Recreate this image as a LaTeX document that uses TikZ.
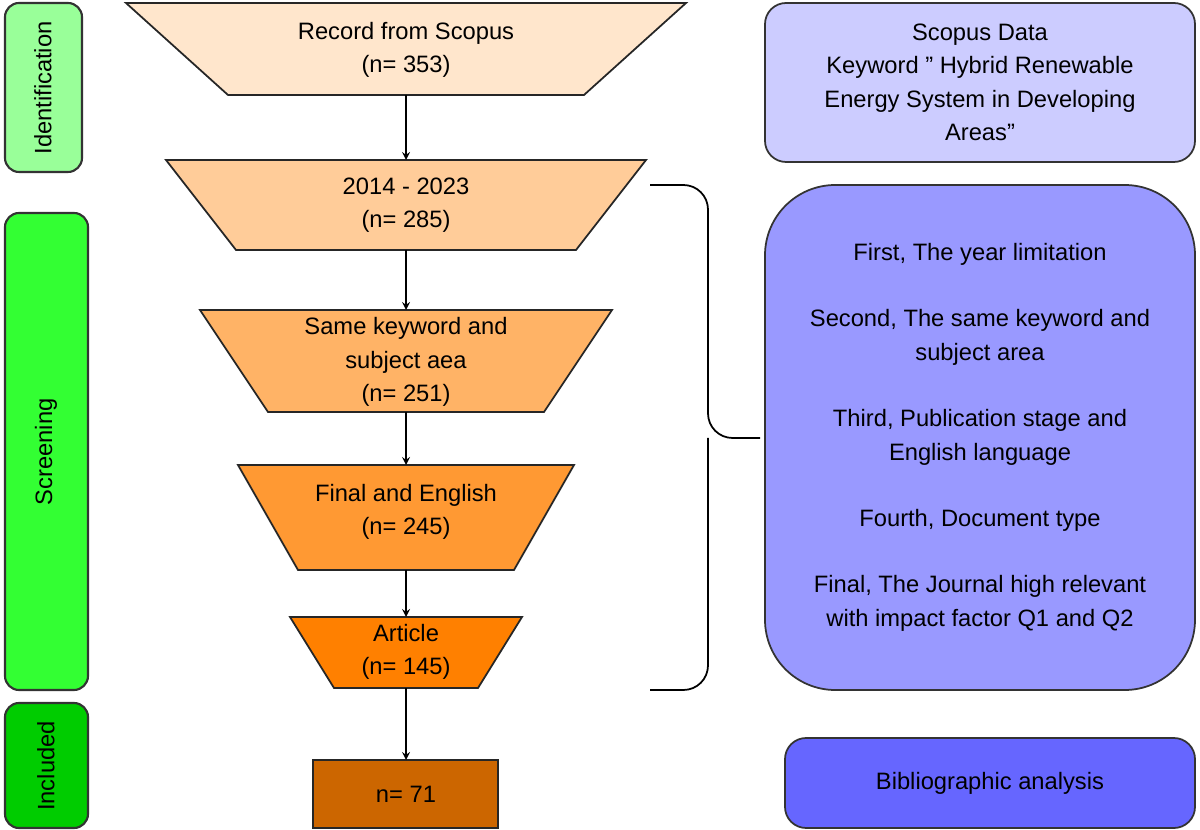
\documentclass[tikz,border=0pt]{standalone}
\usepackage{fontspec}
\setmainfont{Liberation Sans}
\usetikzlibrary{calc, positioning, arrows}
\definecolor{idgreen}{HTML}{99FF99}
\definecolor{scgreen}{HTML}{33FF33}
\definecolor{ingreen}{HTML}{00CC00}
\definecolor{peachA}{HTML}{FFE6CC}
\definecolor{peachB}{HTML}{FFCC99}
\definecolor{peachC}{HTML}{FFB366}
\definecolor{peachD}{HTML}{FF9933}
\definecolor{peachE}{HTML}{FF8000}
\definecolor{brownF}{HTML}{CC6600}
\definecolor{lilacA}{HTML}{CCCCFF}
\definecolor{lilacB}{HTML}{9999FF}
\definecolor{lilacC}{HTML}{6666FF}
\tikzstyle{txt}=[align=center, font=\fontsize{13.5}{19}\selectfont]
\tikzstyle{phase}=[draw=black!80, line width=1.2pt, rounded corners=8pt]
\tikzstyle{funnel}=[draw=black!85, line width=1pt]
\tikzstyle{flow}=[->, >=stealth, line width=1pt]
% funnel stage: #1 name, #2 top y, #3 bottom y, #4 top half width, #5 bottom half width, #6 colour
\newcommand{\stage}[6]{
	\draw[funnel, fill=#6] (406-#4,#2) -- (406+#4,#2) -- (406+#5,#3) -- (406-#5,#3) -- cycle;
	\coordinate (#1-top) at (406,#2);
	\coordinate (#1-bot) at (406,#3);
}
\begin{document}
\begin{tikzpicture}[x=0.02cm, y=-0.02cm]
		\useasboundingbox (0,0) rectangle (1200,830);
		% phases
		\draw[phase, fill=idgreen] (5,3) rectangle (82,172);
		\node[txt, rotate=90] (Id) at (43,88) {Identification};
		\draw[phase, fill=scgreen] (5,213) rectangle (88,690);
		\node[txt, rotate=90] (Sc) at (46,452) {Screening};
		\draw[phase, fill=ingreen] (5,703) rectangle (88,828);
		\node[txt, rotate=90] (In) at (46,766) {Included};
		% funnel
		\stage{S1}{3}{95}{280}{178}{peachA}
		\node[txt] (N1) at (406,50) {Record from Scopus\\(n= 353)};
		\stage{S2}{160}{250}{240}{170}{peachB}
		\node[txt] (N2) at (406,205) {2014 - 2023\\(n= 285)};
		\stage{S3}{310}{412}{206}{138}{peachC}
		\node[txt] (N3) at (406,362) {Same keyword and\\subject aea\\(n= 251)};
		\stage{S4}{465}{570}{168}{108}{peachD}
		\node[txt] (N4) at (406,512) {Final and English\\(n= 245)};
		\stage{S5}{617}{688}{116}{72}{peachE}
		\node[txt] (N5) at (406,652) {Article\\(n= 145)};
		\draw[funnel, fill=brownF] (313,760) rectangle (498,828);
		\coordinate (S6-top) at (406,760);
		\node[txt] (N6) at (406,794) {n= 71};
		\foreach \a/\b in {S1/S2,S2/S3,S3/S4,S4/S5,S5/S6}
		\draw[flow] (\a-bot) -- (\b-top);
		% brace
		\coordinate (Bt) at (650,185);
		\coordinate (Bb) at (650,690);
		\coordinate (Bm) at (760,438);
		\draw[line width=1pt, rounded corners=14pt] (Bt) -- (708,185) -- (708,438) -- (Bm);
		\draw[line width=1pt, rounded corners=14pt] (Bb) -- (708,690) -- (708,438);
		% notes
		\node[phase, fill=lilacA, line width=1pt, rounded corners=12pt, minimum width=430*0.02cm, minimum height=159*0.02cm, txt] (R1) at (980,82.5) {Scopus Data\\Keyword " Hybrid Renewable\\Energy System in Developing\\Areas"};
		\node[phase, fill=lilacB, line width=1pt, rounded corners=40pt, minimum width=430*0.02cm, minimum height=505*0.02cm, txt, font=\fontsize{13.5}{19.5}\selectfont] (R2) at (980,437.5) {First, The year limitation\\[18pt]Second, The same keyword and\\subject area\\[18pt]Third, Publication stage and\\English language\\[18pt]Fourth, Document type\\[18pt]Final, The Journal high relevant\\with impact factor Q1 and Q2};
		\node[phase, fill=lilacC, line width=1pt, rounded corners=12pt, minimum width=410*0.02cm, minimum height=90*0.02cm, txt] (R3) at (990,783) {Bibliographic analysis};
\end{tikzpicture}
\end{document}
